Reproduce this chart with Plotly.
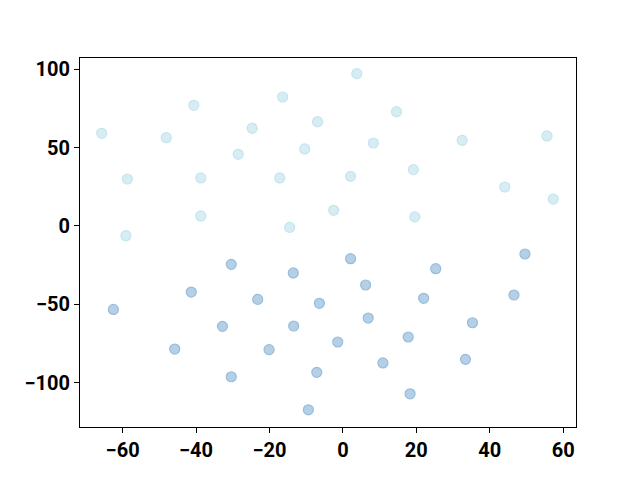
import plotly.graph_objects as go

# Upper (light cyan) group
group_a_x = [-65.7, -40.6, -16.4, -48.1, -24.7, -6.9, -28.5, -10.4, -58.7, -38.7,
             -17.2, -38.7, -59.1, -14.5, 3.8, 14.6, 8.3, 32.5, 55.6, 2.1,
             19.2, -2.5, 19.6, 44.1, 57.3]
group_a_y = [59.2, 77.1, 82.4, 56.4, 62.4, 66.6, 45.8, 49.2, 30.0, 30.7,
             30.7, 6.4, -6.2, -0.9, 97.3, 73.0, 53.0, 54.7, 57.5, 31.7,
             36.0, 10.0, 5.8, 24.9, 17.2]

# Lower (light blue) group
group_b_x = [-30.4, -13.5, -41.3, -23.2, -6.4, -62.5, -32.8, -13.4, -45.8, -20.1,
             -30.4, -7.1, -9.4, 2.1, 49.6, 25.3, 6.2, 22.0, 46.6, 6.9,
             35.3, -1.4, 17.8, 10.9, 33.4, 18.3]
group_b_y = [-24.5, -30.0, -42.2, -46.9, -49.4, -53.3, -64.1, -63.9, -78.6, -79.0,
             -96.3, -93.5, -117.4, -20.9, -17.9, -27.3, -37.7, -46.2, -44.1, -58.8,
             -61.8, -74.1, -70.9, -87.5, -85.2, -107.2]

x_range = [-71.6, 63.5]
y_range = [-128.4, 107.3]

fig = go.Figure()
fig.add_trace(go.Scatter(
    x=group_a_x, y=group_a_y, mode="markers",
    marker=dict(size=10, color="rgb(215,237,243)",
                line=dict(width=1.2, color="rgb(196,229,238)")),
    showlegend=False))
fig.add_trace(go.Scatter(
    x=group_b_x, y=group_b_y, mode="markers",
    marker=dict(size=10, color="rgb(180,207,230)",
                line=dict(width=1.2, color="rgb(152,189,220)")),
    showlegend=False))

axis_common = dict(
    showline=True, mirror=True, linecolor="black", linewidth=1,
    ticks="outside", ticklen=5, tickwidth=1, tickcolor="black",
    showgrid=False, zeroline=False, automargin=False,
    tickfont=dict(family="Roboto", size=20, color="black", weight="bold"),
)
fig.update_xaxes(range=x_range, tick0=0, dtick=20, **axis_common)
fig.update_yaxes(range=y_range, tick0=0, dtick=50, **axis_common)

fig.update_layout(
    width=640, height=480,
    margin=dict(l=72, r=72, t=50, b=61),
    paper_bgcolor="white", plot_bgcolor="white",
)
fig.write_html("out.html")
